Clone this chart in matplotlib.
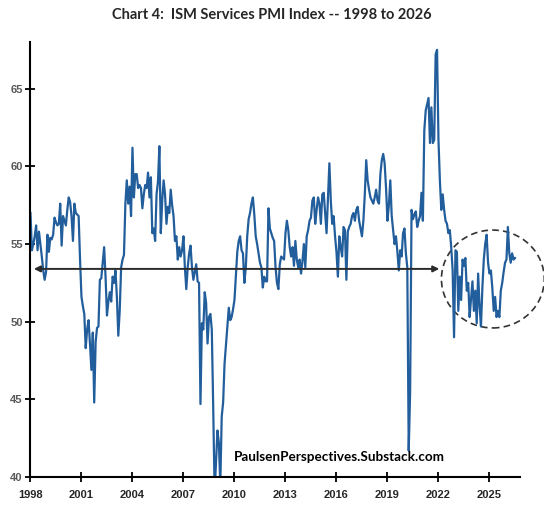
import numpy as np
import pandas as pd
import matplotlib
matplotlib.use('Agg')
import matplotlib.pyplot as plt
from matplotlib.patches import Ellipse

# monthly ISM services PMI, starting Jan 1998
pmi = [
    57.0, 54.6, 55.0, 55.5, 56.2, 54.6, 55.8, 55.0, 54.2, 53.3, 52.7, 53.2,
    55.6, 54.5, 55.4, 55.3, 55.6, 56.7, 56.4, 56.2, 56.3, 57.6, 54.9, 56.8,
    56.5, 56.2, 57.2, 58.0, 57.7, 56.8, 55.2, 57.6, 57.0, 56.9, 56.8, 54.0,
    51.6, 51.0, 50.5, 48.3, 49.5, 50.1, 48.6, 46.9, 49.3, 44.8, 48.7, 49.6,
    49.7, 52.7, 52.8, 53.8, 54.8, 52.9, 50.4, 51.3, 51.9, 51.3, 52.9, 52.5,
    53.3, 51.6, 49.1, 50.7, 53.5, 54.0, 54.3, 57.6, 59.1, 57.6, 58.7, 56.8,
    61.2, 58.0, 59.5, 59.5, 58.6, 58.8, 58.6, 57.3, 58.2, 58.8, 58.6, 59.6,
    58.0, 59.3, 55.7, 56.0, 55.2, 58.2, 59.0, 61.3, 55.7, 57.8, 59.1, 58.2,
    56.3, 57.4, 57.0, 58.5, 57.5, 56.8, 55.2, 55.5, 54.0, 54.8, 54.2, 54.6,
    55.5, 53.5, 52.1, 53.5, 54.4, 54.9, 53.5, 52.7, 53.2, 53.7, 52.6, 52.5,
    44.7, 49.9, 49.5, 51.9, 51.2, 48.6, 50.3, 50.5, 49.5, 44.5, 39.0, 41.0,
    43.0, 42.2, 39.5, 43.9, 44.8, 47.3, 48.5, 49.7, 50.9, 50.1, 50.3, 50.8,
    51.4, 53.0, 54.5, 55.2, 55.5, 54.6, 54.4, 52.5, 53.5, 55.5, 56.6, 57.0,
    57.6, 58.0, 56.9, 55.5, 55.0, 54.4, 53.8, 53.5, 52.2, 52.9, 52.6, 52.6,
    57.3, 56.0, 55.7, 55.4, 55.2, 53.5, 52.5, 52.1, 53.7, 54.2, 54.1, 54.0,
    55.7, 56.5, 55.9, 54.8, 54.2, 54.8, 53.6, 55.2, 54.0, 53.5, 54.0, 53.1,
    53.9, 55.0, 53.5, 55.5, 55.9, 56.5, 56.7, 57.8, 58.0, 56.3, 57.2, 58.0,
    57.6, 56.3, 58.2, 58.3, 57.0, 55.7, 58.0, 60.2, 57.8, 56.3, 56.8, 55.5,
    54.5, 52.9, 55.5, 54.8, 54.2, 56.1, 55.9, 52.7, 55.8, 56.1, 56.3, 56.8,
    57.0, 56.5, 57.2, 57.4, 56.5, 56.0, 55.5, 56.5, 58.2, 60.4, 59.1, 58.5,
    58.0, 57.8, 57.6, 58.0, 58.5, 57.8, 57.6, 59.5, 60.4, 60.8, 60.2, 58.6,
    56.5, 57.5, 59.1, 56.8, 55.9, 55.0, 55.5, 54.5, 53.3, 54.6, 54.2, 55.7,
    56.0, 54.4, 53.5, 41.7, 45.5, 57.2, 56.6, 56.9, 57.1, 56.1, 56.5, 56.8,
    58.3, 56.5, 62.3, 63.6, 64.0, 64.4, 61.5, 63.8, 61.5, 61.7, 67.2, 67.5,
    61.7, 59.1, 57.2, 58.2, 57.2, 56.5, 56.3, 55.7, 55.9, 54.8, 53.3, 49.0,
    54.6, 54.5, 50.7, 52.9, 51.4, 54.0, 53.6, 54.1, 52.0, 52.5, 50.3, 51.5,
    52.6, 50.7, 52.0, 49.9, 53.1, 51.0, 49.7, 52.2, 54.0, 55.0, 55.6, 53.8,
    53.1, 53.3, 52.2, 50.7, 51.6, 50.3, 50.7, 50.3, 52.0, 52.5, 53.2, 53.8,
    54.0, 56.1, 54.4, 53.8, 54.4, 54.0, 54.1,
]
dates = pd.date_range('1998-01-01', periods=len(pmi), freq='MS')
years = dates.year + (dates.month - 1) / 12.0

year_ticks = [1998, 2001, 2004, 2007, 2010, 2013, 2016, 2019, 2022, 2025]
pmi_ticks = [40, 45, 50, 55, 60, 65]
avg_level = 53.4

fig = plt.figure(figsize=(5.44, 5.07), dpi=100)
ax = fig.add_axes([0.056, 0.059, 0.90, 0.858])

ax.plot(years, pmi, color='#225E9C', lw=1.6, solid_joinstyle='round')

ax.set_xlim(1998, 2026.8)
ax.set_ylim(40, 68)
ax.set_xticks(year_ticks)
ax.set_yticks(pmi_ticks)
ax.set_xticklabels([str(y) for y in year_ticks], fontweight='bold',
                   fontsize=8, family='Liberation Sans', color='#262626')
ax.set_yticklabels([str(v) for v in pmi_ticks], fontweight='bold',
                   fontsize=8, family='Liberation Sans', color='#595959')
ax.tick_params(axis='both', direction='inout', length=7, width=1.3, color='black')
ax.tick_params(axis='x', pad=6)
ax.tick_params(axis='y', pad=2)

for side in ['top', 'right']:
    ax.spines[side].set_visible(False)
for side in ['left', 'bottom']:
    ax.spines[side].set_linewidth(1.5)
    ax.spines[side].set_color('black')

# long-run average arrow
ax.annotate('', xy=(1998.2, avg_level), xytext=(2022.05, avg_level),
            arrowprops=dict(arrowstyle='<|-|>', color='#2b2b2b', lw=1.4,
                            mutation_scale=9, shrinkA=0, shrinkB=0))

# dashed circle round the recent readings
circ = Ellipse((2025.2, 52.75), width=6.05, height=6.3, fill=False,
               ls=(0, (4, 2.5)), lw=1.2, edgecolor='#333333', clip_on=False)
ax.add_patch(circ)

ax.text(2016.2, 40.9, 'PaulsenPerspectives.Substack.com', ha='center',
        va='bottom', fontsize=9.7, fontweight='bold', family='Lato')

fig.text(0.5, 0.97, 'Chart 4:  ISM Services PMI Index -- 1998 to 2026',
         ha='center', va='center', fontsize=10.5, fontweight='bold',
         family='Lato', color='#262626')

fig.savefig('out.png', dpi=100)
